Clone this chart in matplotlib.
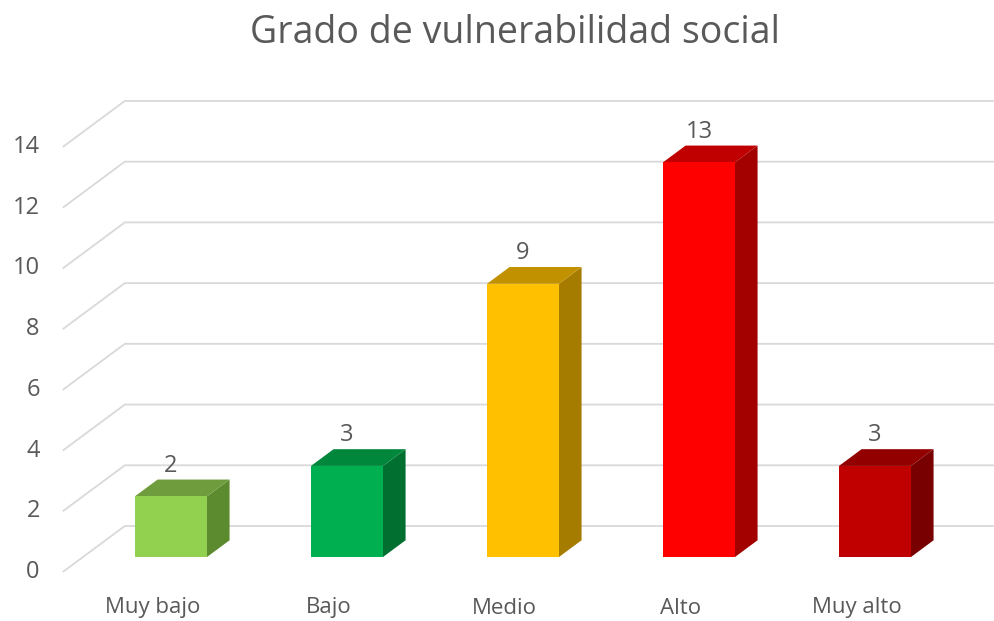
import matplotlib
matplotlib.use("Agg")
import matplotlib.pyplot as plt
from matplotlib.patches import Polygon

plt.rcParams['font.family'] = ['Open Sans', 'DejaVu Sans']

# data
categories = ["Muy bajo", "Bajo", "Medio", "Alto", "Muy alto"]
values = [2, 3, 9, 13, 3]
ticks = [0, 2, 4, 6, 8, 10, 12, 14]
front_colors = ["#92D050", "#00B050", "#FFC000", "#FF0000", "#C00000"]
top_colors = ["#6F9D3D", "#00873C", "#C29100", "#C00000", "#920000"]
side_colors = ["#5B8A2F", "#006F30", "#A67C00", "#A30000", "#780000"]

TEXT = "#595959"
GRID = "#D9D9D9"

# fake 3d: depth d goes 0 (front floor edge) -> 1 (back wall)
DEPTH_X = 62 / 176      # category units per full depth
DEPTH_Y = 46 / 30.36    # value units per full depth
D_FRONT, D_BACK = 0.326, 0.69
HALF_W = 36 / 176


def proj(x, v, d):
    return (x + DEPTH_X * d, v + DEPTH_Y * d)


fig = plt.figure(figsize=(9.95, 6.21), dpi=100)
ax = fig.add_axes([0, 0, 1, 1])
ax.set_xlim((0 - 150.8) / 176, (995 - 150.8) / 176)
ax.set_ylim((572 - 621) / 30.36, 572 / 30.36)
ax.axis("off")

# gridlines: slanted left wall + horizontal back wall
x_left = -0.5
x_right = 5.0
for t in ticks:
    p0 = proj(x_left, t, 0)
    p1 = proj(x_left, t, 1)
    p2 = proj(x_right, t, 1)
    ax.plot([p0[0], p1[0], p2[0]], [p0[1], p1[1], p2[1]],
            color=GRID, lw=1.3, zorder=1, solid_capstyle="butt")
    ax.annotate(str(t), p0, xytext=(-23, 0), textcoords="offset pixels",
                ha="right", va="center", fontsize=17, color=TEXT)

# bars
for i, v in enumerate(values):
    x0, x1 = i - HALF_W, i + HALF_W
    front = [proj(x0, 0, D_FRONT), proj(x1, 0, D_FRONT),
             proj(x1, v, D_FRONT), proj(x0, v, D_FRONT)]
    top = [proj(x0, v, D_FRONT), proj(x1, v, D_FRONT),
           proj(x1, v, D_BACK), proj(x0, v, D_BACK)]
    side = [proj(x1, 0, D_FRONT), proj(x1, 0, D_BACK),
            proj(x1, v, D_BACK), proj(x1, v, D_FRONT)]
    ax.add_patch(Polygon(side, closed=True, fc=side_colors[i], ec="none", zorder=3))
    ax.add_patch(Polygon(top, closed=True, fc=top_colors[i], ec="none", zorder=3))
    ax.add_patch(Polygon(front, closed=True, fc=front_colors[i], ec="none", zorder=4))

    lx, _ = proj(i, v, D_FRONT)
    _, ly = proj(i, v, D_BACK)
    ax.annotate(str(v), (lx, ly), xytext=(0, 2), textcoords="offset pixels",
                ha="center", va="bottom", fontsize=17, color=TEXT, zorder=5)

    cx, cy = proj(i, 0, 0)
    ax.annotate(categories[i], (cx, cy), xytext=(2, -36), textcoords="offset pixels",
                ha="center", va="center", fontsize=16, color=TEXT)

fig.text(515.5 / 995, 1 - 33 / 621, "Grado de vulnerabilidad social",
         ha="center", va="center", fontsize=27, color=TEXT)

fig.savefig("out.png", dpi=100, facecolor="white")
